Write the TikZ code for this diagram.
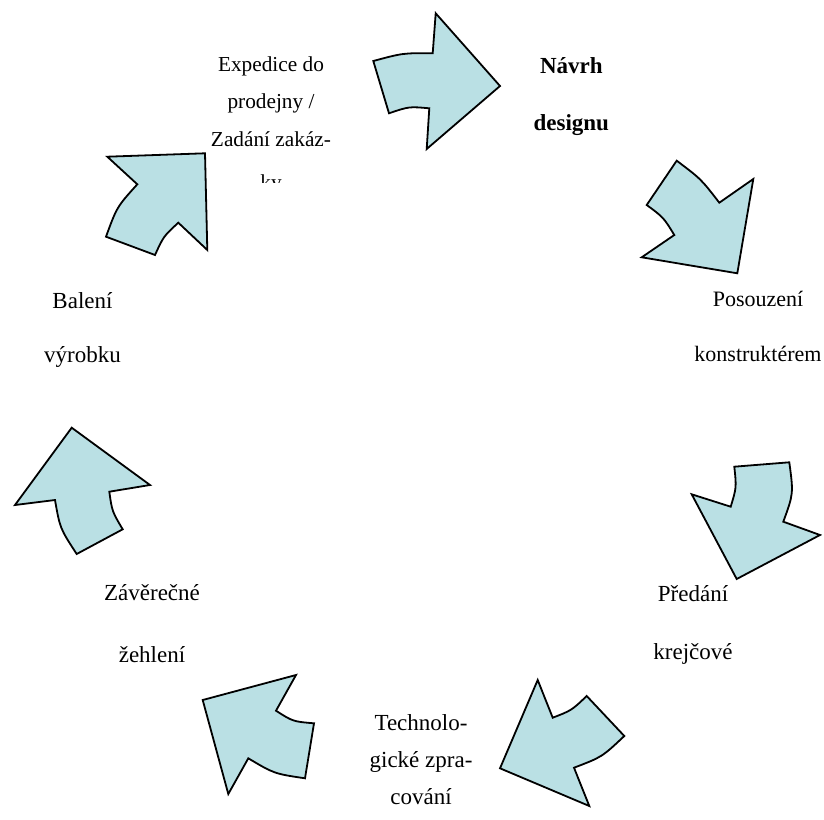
\documentclass[tikz,border=0pt]{standalone}
\usepackage{fontspec}
\setmainfont{Liberation Serif}
\definecolor{arrowfill}{RGB}{186,224,228}
\begin{document}
\begin{tikzpicture}[x=1pt,y=-1pt,
		cyclearrow/.style={draw=black, line width=1.8pt, fill=arrowfill, line join=miter},
		steplabel/.style={anchor=base, align=center, inner sep=0pt}]
		\newcommand{\mylabelfont}[2]{\fontsize{#1}{#2}\selectfont}
		\useasboundingbox (0,0) rectangle (824,819);
		%Arrows of the cycle, clockwise from the top
		\draw[cyclearrow] (373.3,61) .. controls (403,53) .. (432.7,53.3) -- (435.7,13.3) -- (500,86)
			-- (426.7,149) -- (429.3,108.3) .. controls (409,106.5) .. (389,113.3) -- cycle;
		\draw[cyclearrow] (676.7,160.7) .. controls (701,179) .. (719.3,202.7) -- (753.3,179) -- (737.3,273.3)
			-- (641.7,257.3) -- (674.3,235) .. controls (663.5,217.4) .. (646.7,205) -- cycle;
		\draw[cyclearrow] (789.3,462.3) .. controls (793.5,493.7) .. (783.3,521.7) -- (820,535) -- (736.7,579)
			-- (691.7,494.3) -- (730.7,506.7) .. controls (736.5,487.5) .. (734.3,466.7) -- cycle;
		\draw[cyclearrow] (624.3,736) .. controls (602,757) .. (574,767.7) -- (589.3,806) -- (500,768.3)
			-- (537.7,680) -- (552.7,717.7) .. controls (571.6,710.4) .. (586.7,696) -- cycle;
		\draw[cyclearrow] (305,778.3) .. controls (274.2,773.7) .. (248.3,758.3) -- (228.3,794) -- (202.7,700)
			-- (296,675) -- (276,710.7) .. controls (292.9,721.5) .. (314,723.3) -- cycle;
		\draw[cyclearrow] (76.7,554) .. controls (60,528.4) .. (55,500) -- (15,505) -- (71.7,427.7)
			-- (150,485) -- (109.3,491.7) .. controls (112.1,511.4) .. (122.7,529.3) -- cycle;
		\draw[cyclearrow] (106,236.7) .. controls (116.9,206.9) .. (137.3,184.3) -- (107.3,156.7) -- (205,153.3)
			-- (207.3,250) -- (178.3,222.7) .. controls (163.5,236.4) .. (155,255) -- cycle;
		%Labels of the steps (anchored at the baseline of the last line)
		\node[steplabel, font=\bfseries\mylabelfont{23}{56.7}] (design) at (571.3,130) {Návrh\\designu};
		\node[steplabel, font=\mylabelfont{22}{55.7}] (posouzeni) at (758,361.7) {Posouzení\\konstruktérem};
		\node[steplabel, font=\mylabelfont{23}{57.6}] (predani) at (693,659.3) {Předání\\krejčové};
		\node[steplabel, font=\mylabelfont{23}{37}] (technologie) at (421,804) {Technolo-\\gické zpra-\\cování};
		\node[steplabel, font=\mylabelfont{23}{62}] (zehleni) at (152,662) {Závěrečné\\žehlení};
		\node[steplabel, font=\mylabelfont{23}{54.4}] (baleni) at (82.5,362.7) {Balení\\výrobku};
		%Last label is cut off at the bottom
		\begin{scope}
			\clip (150,0) rectangle (400,182);
			\node[steplabel, font=\mylabelfont{21.3}{37.2}] (expedice) at (271,189.3) {Expedice do\\prodejny /\\Zadání zakáz-\\[6pt]ky};
		\end{scope}
\end{tikzpicture}
\end{document}
